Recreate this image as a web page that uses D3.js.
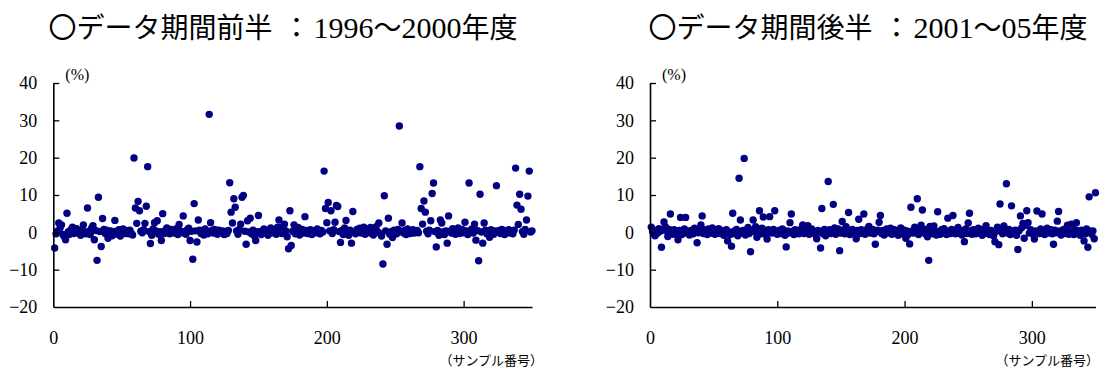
<!DOCTYPE html>
<html>
<head>
<meta charset="utf-8">
<script src="https://cdn.jsdelivr.net/npm/d3@7"></script>
<style>
html,body{margin:0;padding:0;background:#fff;}
svg{display:block;}
.serif{font-family:"Liberation Serif","DejaVu Serif",serif;}
.gothic{font-family:"Noto Sans CJK JP","Noto Sans",sans-serif;}
</style>
</head>
<body>
<svg id="chart" width="1099" height="371"></svg>
<script>
// ---- data ----
const sampleStart = 1;
// first half: 1996-2000 fiscal years
const firstHalf = [
-4.2,-0.4,0.3,2.5,1.2,2.0,-0.6,-1.1,-2.0,5.1,0.2,-0.5,0.8,1.4,-0.3,0.5,1.0,-0.2,0.4,-0.8,0.6,2.0,0.1,-0.4,6.5,
0.3,-0.6,1.1,1.8,-2.0,0.5,-7.5,9.4,0.2,-3.8,3.7,0.8,-0.3,0.6,-1.6,-0.2,0.4,-0.9,0.1,3.2,0.3,-0.5,0.7,-1.0,0.2,
0.9,-0.3,0.5,0.1,-0.4,0.6,-0.2,-0.7,19.9,6.5,2.4,8.3,5.8,0.3,-0.1,0.7,2.4,7.0,17.6,0.2,-3.0,-0.8,0.9,2.6,0.4,
3.1,-0.5,0.2,-2.2,5.0,-0.3,0.6,1.2,0.1,-0.4,0.8,0.3,-0.2,0.5,1.0,-0.6,2.1,0.4,-0.1,4.4,0.2,-0.5,0.7,1.1,-2.2,
0.3,-7.2,7.7,0.4,-2.6,3.3,0.6,-0.3,0.1,-0.7,0.9,0.2,-0.4,31.6,2.6,0.5,-0.2,0.8,0.1,-0.5,0.6,0.3,-0.1,0.4,-0.6,
0.2,-0.3,0.5,13.3,5.4,2.5,9.0,6.7,0.4,-0.5,0.8,2.2,9.4,9.9,0.3,-3.2,3.1,0.1,3.8,-0.4,0.6,-0.9,-2.2,0.2,4.5,
0.1,-0.6,0.4,0.9,-0.2,0.5,-0.8,0.3,1.2,-0.1,0.6,0.2,-0.5,1.4,3.3,0.7,-0.3,1.6,2.2,0.4,-1.2,-4.4,5.8,-3.5,0.3,
2.0,-0.4,0.6,1.3,-0.7,0.2,0.8,-0.2,4.2,0.5,-0.3,0.1,0.7,-0.6,0.4,0.2,-0.1,0.9,0.3,-0.4,0.5,0.1,16.4,6.4,2.6,
8.0,0.4,5.8,-0.3,0.7,2.7,7.2,6.9,0.2,-2.7,0.5,-0.6,1.2,3.2,0.3,-0.8,0.6,-2.9,5.6,0.1,-0.4,0.8,0.2,1.1,-0.2,
0.5,1.4,-0.5,0.3,0.9,-0.1,1.3,0.4,-0.7,0.6,1.5,0.2,2.5,-0.3,-1.0,-8.5,9.8,0.4,-3.2,3.8,-0.5,0.2,-1.4,0.6,0.1,
-0.4,0.8,28.5,0.3,2.5,-0.2,0.5,-0.6,0.9,0.1,-0.3,0.4,0.7,-0.2,0.2,0.5,-0.1,17.6,6.4,2.2,8.4,5.4,0.3,-0.4,0.6,
3.1,10.4,13.2,0.2,-3.9,0.5,-0.8,3.3,2.5,0.1,-0.6,0.4,-2.9,4.4,0.3,-0.2,1.0,0.6,-0.5,0.2,1.2,-0.3,0.5,0.8,-0.1,
2.7,0.4,-0.6,13.2,0.3,0.9,-0.2,2.2,-2.1,0.5,-7.6,10.2,0.1,-2.9,2.5,0.6,-0.4,0.2,-1.3,0.7,0.3,-0.5,0.4,12.5,0.1,
0.5,-0.3,0.8,0.2,-0.6,0.4,0.1,0.7,-0.2,0.3,-0.4,0.6,17.2,7.3,2.1,10.2,6.2,0.2,-0.5,0.8,3.3,9.7,16.4,0.1,0.4
];
// second half: 2001-05 fiscal years
const secondHalf = [
1.4,0.2,-0.4,-0.9,0.5,-0.2,1.0,0.3,-4.0,0.6,2.8,1.5,0.4,-1.1,0.8,4.9,0.1,-0.5,0.7,0.3,-0.3,-2.0,0.5,4.0,-0.6,
0.2,0.9,4.0,-0.2,0.4,-0.7,0.1,0.6,-0.4,1.1,0.3,-2.8,-0.1,0.5,2.0,4.4,-0.3,0.7,0.2,-0.6,0.9,0.4,-0.2,1.2,0.3,
-0.5,0.6,0.1,1.0,-0.3,0.5,0.2,-0.8,0.4,0.7,-2.3,0.1,-0.6,-3.7,5.1,0.3,-0.4,0.8,-0.9,14.5,3.3,-0.2,0.5,19.8,-0.7,
0.4,1.3,-0.3,-5.2,0.6,3.3,0.2,1.5,-1.3,0.9,5.8,-0.4,1.1,4.1,0.3,-0.6,-1.8,0.7,4.2,0.1,-0.2,0.8,5.8,0.4,-0.5,
0.2,0.6,-0.3,0.9,0.1,-0.8,-3.9,0.4,-0.2,2.6,4.9,0.3,-0.6,0.7,-0.1,0.5,-0.4,0.2,1.0,2.0,-0.3,0.6,0.1,1.8,-0.5,
0.4,0.9,-0.2,0.3,-0.6,-1.7,0.5,0.1,-4.2,6.4,-0.4,0.8,-0.9,0.2,13.6,0.7,-0.3,0.4,7.5,1.2,-0.5,0.3,0.9,-4.9,-0.2,
2.9,0.6,-0.4,1.5,0.1,5.3,-0.6,0.4,0.8,-0.2,0.3,-1.7,0.5,3.5,-0.3,0.7,0.1,4.9,-0.5,0.4,1.0,1.6,-0.2,0.3,0.8,
-0.4,-3.2,0.2,0.6,2.7,4.5,-0.3,0.5,-0.7,0.2,0.9,-0.1,0.4,1.1,-0.5,0.3,0.7,-0.2,0.1,-0.8,0.5,1.2,-0.4,0.2,0.6,
-1.6,0.3,-0.5,-3.1,6.7,0.4,-0.2,1.4,0.1,9.0,-0.6,0.5,1.9,6.0,0.2,-0.3,0.8,-1.2,-7.5,1.6,0.4,-0.4,1.7,0.3,-0.7,
5.5,0.2,-0.5,0.7,-0.1,1.0,0.4,-0.6,3.8,0.3,-0.3,0.8,4.5,0.1,-0.4,0.6,1.3,-0.2,0.5,-0.7,0.2,-2.5,0.9,-0.3,2.5,
5.1,0.4,-0.5,0.7,0.1,-0.4,0.3,1.1,-0.2,0.6,-0.8,0.2,0.9,1.8,-0.3,0.4,-0.6,0.5,0.1,-0.9,-2.5,0.3,1.4,-3.3,7.6,
0.2,-0.4,1.7,0.5,13.0,-0.2,0.8,-0.6,7.1,0.3,-0.3,0.6,-0.8,-4.6,0.4,4.4,1.2,2.4,-1.6,1.9,5.8,2.6,-0.2,0.7,0.1,
-0.5,-1.8,0.4,5.7,0.2,-0.3,0.9,4.9,0.1,-0.6,0.5,1.1,-0.2,0.3,0.7,-0.4,-3.2,0.6,-0.1,3.0,5.6,0.4,-0.7,0.2,0.8,
-0.3,0.5,1.9,-0.5,0.3,2.2,0.1,-0.6,0.7,2.6,-0.2,0.4,-0.8,0.6,0.2,-2.3,-0.4,0.9,-4.0,9.5,0.3,-0.5,0.4,-1.7,10.6
];
const yTicks = [-20, -10, 0, 10, 20, 30, 40];
const xTicks = [0, 100, 200, 300];
const titleParts = [
  ["〇データ期間前半", "：", "1996", "〜", "2000", "年度"],
  ["〇データ期間後半", "：", "2001", "〜", "05", "年度"]
];
const yUnit = "(%)";
const xUnit = "（サンプル番号）";

// ---- drawing ----
const svg = d3.select("#chart");
const dotColor = "#000080";

const panels = [
  {data: firstHalf, x0: 53.3, x1: 532, titleX: 283, unitRight: 543},
  {data: secondHalf, x0: 650, x1: 1095.5, titleX: 868, unitRight: 1099}
];
const yTop = 83, yBottom = 307;

panels.forEach((p, i) => {
  const x = d3.scaleLinear().domain([0, 350]).range([p.x0, p.x1]);
  const y = d3.scaleLinear().domain([-20, 40]).range([yBottom, yTop]);
  const g = svg.append("g");

  // title
  const t = svg.append("text")
    .attr("x", p.titleX).attr("y", 38)
    .attr("text-anchor", "middle")
    .attr("fill", "#000");
  titleParts[i].forEach((s, k) => {
    const isNum = /^[0-9]+$/.test(s);
    const ts = t.append("tspan")
      .attr("class", isNum ? "serif" : "gothic")
      .style("font-size", isNum ? "30px" : "28px")
      .text(s);
    if (s === "：") ts.attr("dx", 10);
    if (k === 2) ts.attr("dx", 3);
  });

  // points
  g.append("g").selectAll("circle")
    .data(p.data)
    .join("circle")
    .attr("cx", (d, j) => x(j + sampleStart))
    .attr("cy", d => y(d))
    .attr("r", 3.7)
    .attr("fill", dotColor);

  // y axis
  const ya = g.append("g")
    .attr("transform", `translate(${p.x0},0)`)
    .call(d3.axisLeft(y).tickValues(yTicks).tickSize(-6).tickPadding(16).tickSizeOuter(0));
  // x axis
  const xa = g.append("g")
    .attr("transform", `translate(0,${yBottom})`)
    .call(d3.axisBottom(x).tickValues(xTicks).tickSize(-6).tickPadding(24).tickSizeOuter(0));

  [ya, xa].forEach(a => {
    a.attr("font-family", null).attr("font-size", null);
    a.select(".domain").attr("stroke", "#000").attr("stroke-width", 1.6);
    a.selectAll(".tick line").attr("stroke", "#000").attr("stroke-width", 1.3);
    a.selectAll(".tick text")
      .attr("class", "serif").style("font-size", "18px").attr("fill", "#000");
  });
  xa.selectAll(".tick").filter(d => d === 0).select("line").remove();
  ya.selectAll(".tick").filter(d => d === -20).select("line").remove();

  // units
  svg.append("text")
    .attr("class", "serif")
    .attr("x", p.x0 + 12).attr("y", 80)
    .style("font-size", "16px")
    .text(yUnit);
  svg.append("text")
    .attr("class", "gothic")
    .attr("x", p.unitRight).attr("y", 365)
    .attr("text-anchor", "end")
    .style("font-size", "13px")
    .text(xUnit);
});
</script>
</body>
</html>
